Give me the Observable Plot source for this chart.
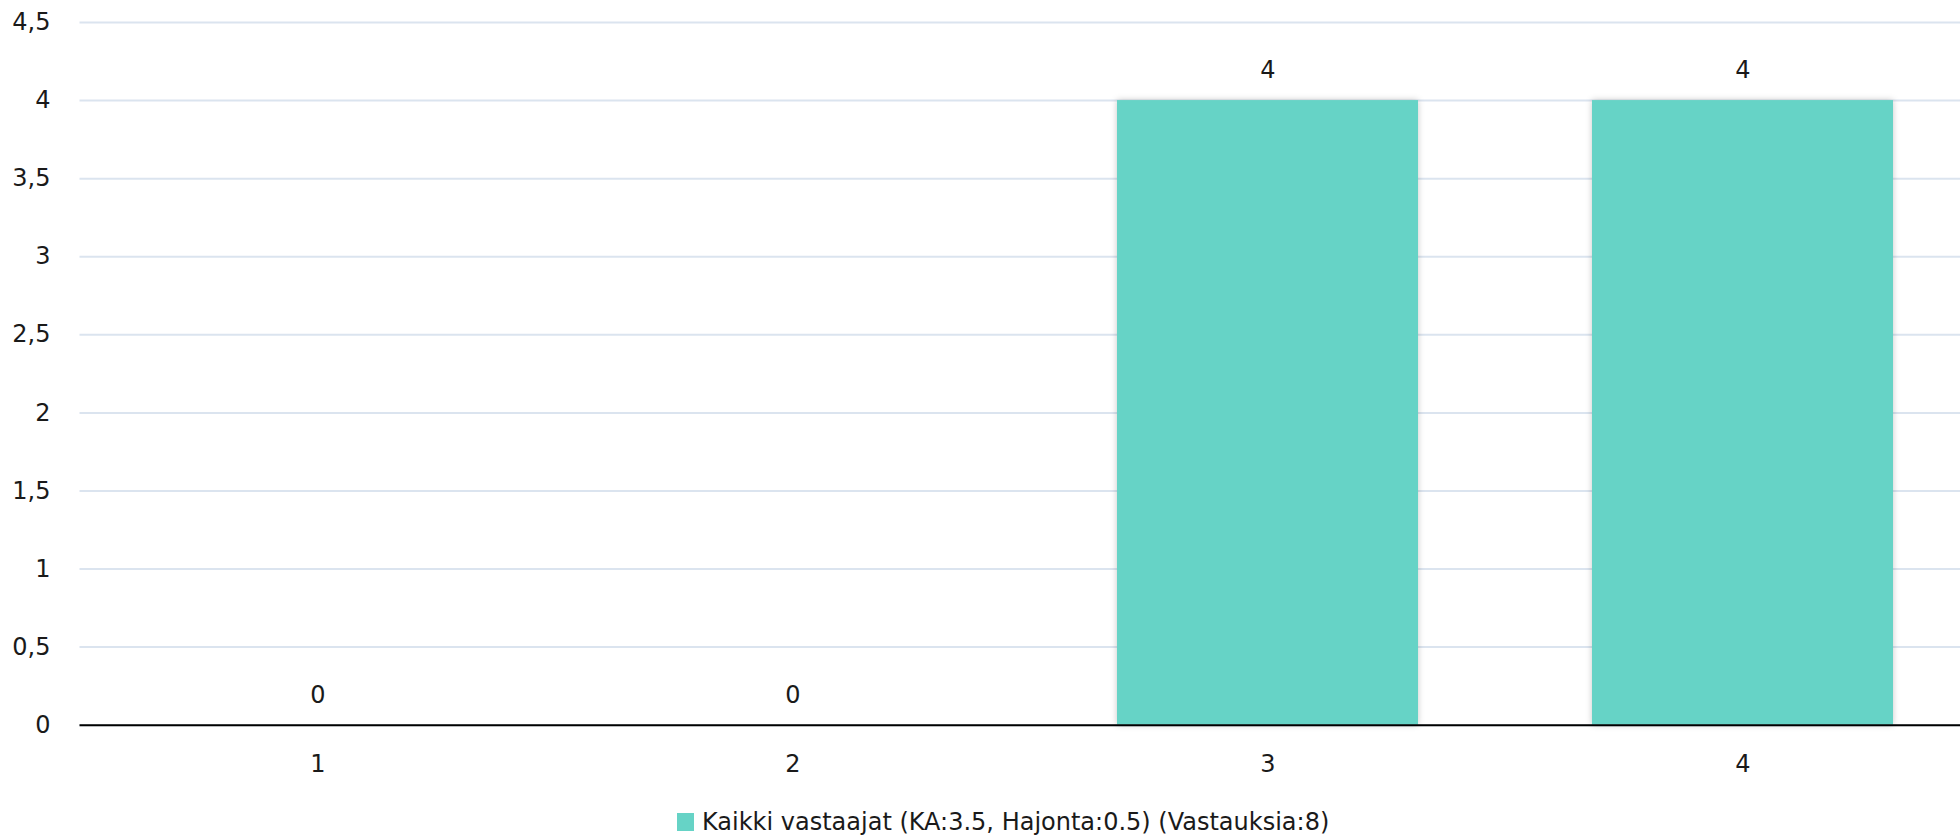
<!DOCTYPE html>
<html><head><meta charset="utf-8">
<script src="https://cdn.jsdelivr.net/npm/d3@7"></script>
<script src="https://cdn.jsdelivr.net/npm/@observablehq/plot@0.6"></script>
<style>
body{margin:0;background:#fff;font-family:"DejaVu Sans",sans-serif;}
#wrap{position:relative;width:1960px;height:839px;overflow:hidden;}
#legend{position:absolute;left:677px;top:808px;height:28px;display:flex;align-items:center;font-size:24px;line-height:28px;color:#1a1a1a;white-space:nowrap;}
#legend .sw{width:17px;height:18px;background:#66d3c6;margin-right:8px;}
.bars rect{filter:drop-shadow(0 0 3px rgba(0,0,0,0.22));}
</style></head>
<body><div id="wrap"><div id="chart"></div><div id="legend"><span class="sw"></span><span id="ltext"></span></div></div>
<script>
const categories = ["1","2","3","4"];
const values = [0,0,4,4];
const yTicks = [0,0.5,1,1.5,2,2.5,3,3.5,4,4.5];
const seriesName = "Kaikki vastaajat (KA:3.5, Hajonta:0.5) (Vastauksia:8)";

const data = categories.map((c,i)=>({cat:c, value:values[i]}));
document.getElementById("ltext").textContent = seriesName;
const fmt = v => String(v).replace(".", ",");

const chart = Plot.plot({
  width:1960, height:790,
  marginTop:22, marginBottom:65.3, marginLeft:79.5, marginRight:0,
  style:{fontFamily:"'DejaVu Sans', sans-serif", fontSize:"24px", color:"#1a1a1a", background:"#fff"},
  x:{domain:categories, paddingInner:0.366, paddingOuter:0.162, align:0.565, label:null},
  y:{domain:[0,4.5], label:null},
  marks:[
    Plot.gridY(yTicks,{stroke:"#dbe4ef", strokeOpacity:1, strokeWidth:2}),
    Plot.barY(data,{x:"cat", y:"value", fill:"#66d3c6", className:"bars"}),
    Plot.ruleY([0],{stroke:"#000", strokeWidth:2}),
    Plot.text(data,{x:"cat", y:"value", text:d=>fmt(d.value), dy:-30, fontSize:24, fill:"#1a1a1a"}),
    Plot.axisY({ticks:yTicks, tickFormat:fmt, tickSize:0, tickPadding:29.5, fontSize:24, textAnchor:"end"}),
    Plot.axisX({tickSize:0, tickPadding:30, fontSize:24})
  ]
});
document.getElementById("chart").appendChild(chart);
</script></body></html>
